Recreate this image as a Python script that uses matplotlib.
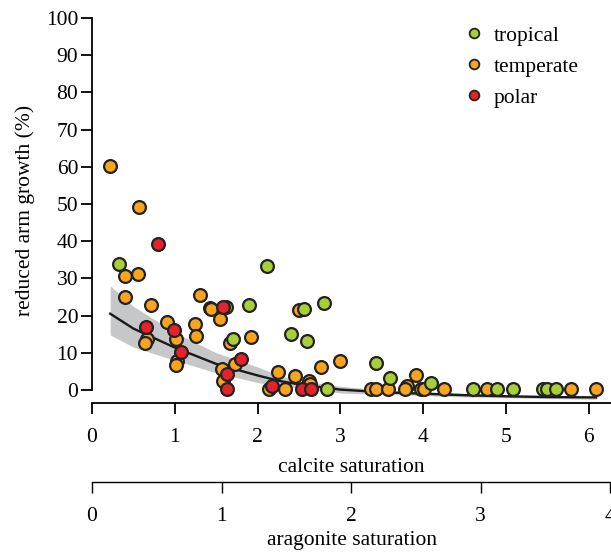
import matplotlib.pyplot as plt
from matplotlib.lines import Line2D

plt.rcParams['font.family'] = ['Liberation Serif', 'DejaVu Serif']
plt.rcParams['font.size'] = 15.5

# calcite saturation / reduced arm growth (%) per region
tropical_x = [0.32, 1.62, 1.70, 1.90, 2.12, 2.41, 2.56, 2.60, 2.80, 2.84,
              3.43, 3.60, 4.10, 4.60, 4.89, 5.09, 5.45, 5.50, 5.61]
tropical_y = [33.8, 22.2, 13.6, 22.8, 33.4, 15.0, 21.7, 13.1, 23.3, 0.2,
              7.2, 3.1, 1.9, 0.2, 0.2, 0.2, 0.2, 0.2, 0.2]

temperate_x = [0.22, 0.57, 0.40, 0.556, 0.40, 0.713, 1.31, 1.42, 1.44, 1.55,
               0.90, 1.016, 0.665, 0.64, 1.03, 1.02, 1.25, 1.26, 1.67, 1.92,
               1.73, 1.57, 1.58, 2.245, 2.14, 2.33, 2.50, 2.77, 2.99, 2.45,
               2.62, 2.63, 3.81, 3.91, 3.37, 3.43, 3.58, 3.78, 3.98, 4.01,
               4.25, 4.77, 5.79, 6.09]
temperate_y = [60.3, 49.2, 30.6, 31.3, 25.1, 22.8, 25.4, 22.0, 21.8, 19.2,
               18.4, 13.7, 13.6, 12.5, 7.9, 6.7, 17.6, 14.4, 12.5, 14.2,
               7.0, 5.7, 2.5, 4.7, 0.3, 0.3, 21.4, 6.3, 7.7, 3.8,
               2.4, 1.5, 1.2, 4.1, 0.2, 0.2, 0.2, 0.2, 0.2, 0.2,
               0.2, 0.2, 0.2, 0.2]

polar_x = [0.794, 1.58, 0.995, 0.657, 1.07, 1.80, 1.63, 1.63, 2.18, 2.54, 2.65]
polar_y = [39.3, 22.2, 16.1, 17.0, 10.1, 8.2, 4.3, 0.2, 1.0, 0.2, 0.2]

# fitted curve and confidence band
fit_x = [0.22, 0.5, 1.0, 1.5, 2.0, 2.27, 2.5, 3.0, 3.5, 4.0, 4.5, 5.0, 5.5, 6.09]
fit_y = [20.5, 16.5, 11.4, 7.0, 3.9, 2.4, 1.5, 0.1, -0.6, -1.0, -1.4, -1.7, -1.9, -2.0]
fit_hi = [28.0, 22.5, 15.5, 10.0, 6.2, 3.8, 2.5, 1.0, 0.0, -0.5, -0.9, -1.3, -1.5, -1.6]
fit_lo = [14.8, 11.5, 8.0, 4.6, 2.0, 1.1, 0.5, -0.8, -1.2, -1.5, -1.9, -2.1, -2.3, -2.5]

green = '#a8cf38'
orange = '#f8a41c'
red = '#e5222a'
edge = '#222222'
ratio = 1.565  # calcite / aragonite

fig = plt.figure(figsize=(6.11, 5.55), dpi=100)
ax = fig.add_axes([0.1506, 0.2739, 0.8494, 0.6937])

ax.fill_between(fit_x, fit_lo, fit_hi, color='#c6c7c9', lw=0, zorder=1)
ax.plot(fit_x, fit_y, color='#1a1a1a', lw=1.7, zorder=2)

kw = dict(s=85, edgecolors=edge, linewidths=1.6, zorder=3)
ax.scatter(temperate_x, temperate_y, c=orange, **kw)
ax.scatter(tropical_x, tropical_y, c=green, **kw)
ax.scatter(polar_x, polar_y, c=red, **kw)

ax.set_xlim(0, 6.27)
ax.set_ylim(-3.5, 100)
ax.set_yticks(range(0, 101, 10))
ax.set_xticks(range(0, 7))
ax.spines['top'].set_visible(False)
ax.spines['right'].set_visible(False)
ax.spines['left'].set_bounds(0, 100)
for s in ['left', 'bottom']:
    ax.spines[s].set_linewidth(1.3)
ax.tick_params(direction='out', length=8, width=1.3)
ax.tick_params(axis='y', pad=2)
ax.tick_params(axis='x', pad=10)
ax.set_xlabel('calcite saturation', labelpad=8)
ax.set_ylabel('reduced arm growth (%)', labelpad=8)

sec = ax.secondary_xaxis(-0.205, functions=(lambda x: x / ratio, lambda x: x * ratio))
sec.set_xticks(range(0, 5))
sec.spines['bottom'].set_linewidth(1.0)
sec.tick_params(direction='out', length=8, width=1.0, pad=10)
sec.set_xlabel('aragonite saturation', labelpad=4)

handles = [Line2D([], [], ls='none', marker='o', ms=7, mfc=c, mec=edge, mew=1.3)
           for c in [green, orange, red]]
ax.legend(handles, ['tropical', 'temperate', 'polar'], loc='upper right',
          bbox_to_anchor=(0.975, 1.03), frameon=False, handletextpad=0.3,
          labelspacing=0.5, handlelength=1.2)

plt.savefig('out.png', dpi=100)
